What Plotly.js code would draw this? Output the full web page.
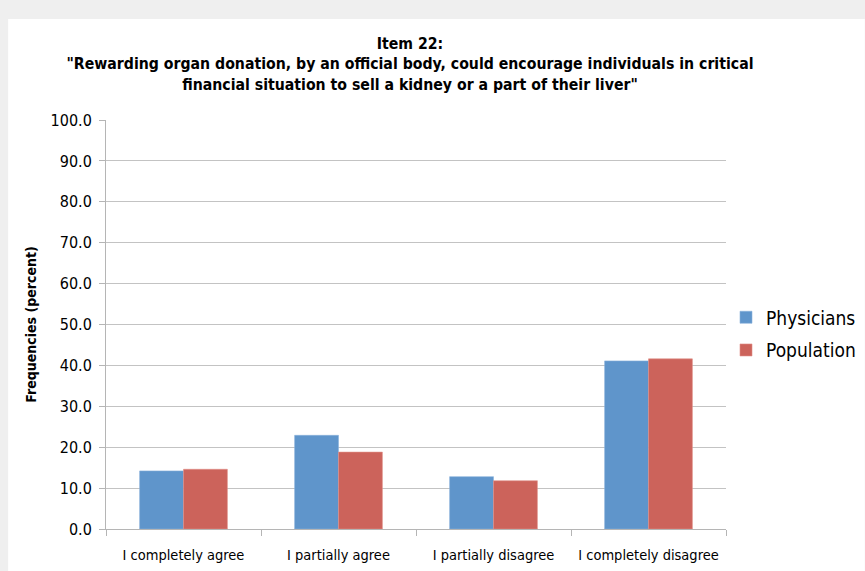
<!DOCTYPE html>
<html>
<head>
<meta charset="utf-8">
<script src="https://cdn.plot.ly/plotly-3.0.1.min.js"></script>
<style>html,body{margin:0;padding:0;background:#efefef;}#chart{width:865px;height:571px;}</style>
</head>
<body>
<div id="chart"></div>
<script>
const categories = ["I completely agree", "I partially agree", "I partially disagree", "I completely disagree"];
const physicians = [14.2, 22.9, 12.8, 41.1];
const population = [14.6, 18.8, 11.8, 41.6];
const seriesNames = ["Physicians", "Population"];
const yTicks = [0, 10, 20, 30, 40, 50, 60, 70, 80, 90, 100];

const FONT = '"Liberation Sans Narrow", "DejaVu Sans Condensed", "Liberation Sans", sans-serif';

const traces = [
  {type: 'bar', name: seriesNames[0], x: categories, y: physicians,
   marker: {color: '#5f95cb', line: {color: '#8ab2dc', width: 0.6}}, legendgroup: 'a'},
  {type: 'bar', name: seriesNames[1], x: categories, y: population,
   marker: {color: '#cc635b', line: {color: '#e08e88', width: 0.6}}, legendgroup: 'b'}
];

const layout = {
  width: 865, height: 571,
  margin: {l: 106, r: 138, t: 120, b: 42},
  paper_bgcolor: '#efefef',
  plot_bgcolor: '#ffffff',
  font: {family: FONT, color: '#000'},
  barmode: 'group', bargap: 0.434, bargroupgap: 0,
  title: {
    text: '<b>Item 22:<br>"Rewarding organ donation, by an official body, could encourage individuals in critical<br>financial situation to sell a kidney or a part of their liver"</b>',
    font: {family: FONT, size: 15.7, color: '#000'},
    xref: 'container', x: 0.474, xanchor: 'center',
    yref: 'container', y: 1 - 49/571, yanchor: 'top'
  },
  shapes: [{type: 'rect', xref: 'paper', yref: 'paper', layer: 'below',
    x0: (8-106)/621, x1: (866-106)/621, y0: (529-572)/409, y1: (529-19)/409,
    fillcolor: '#ffffff', line: {width: 0}}],
  xaxis: {
    type: 'category', showgrid: false, showline: true, linecolor: '#b5b5b5', linewidth: 1,
    ticks: 'outside', tickson: 'boundaries', ticklen: 6, tickcolor: '#b5b5b5',
    ticklabelstandoff: 13,
    tickfont: {family: FONT, size: 14.5, color: '#000'}
  },
  yaxis: {
    range: [0, 100], tickvals: yTicks, tickformat: '.1f',
    showgrid: true, gridcolor: '#c3c3c3', gridwidth: 1,
    showline: true, linecolor: '#b5b5b5', linewidth: 1,
    ticks: 'outside', ticklen: 6, tickcolor: '#b5b5b5',
    ticklabelstandoff: 4,
    tickfont: {family: FONT, size: 16, color: '#000'},
    zeroline: false,
    title: {text: '<b>Frequencies (percent)</b>', font: {family: FONT, size: 14, color: '#000'}, standoff: 10}
  },
  legend: {xref: 'container', x: 726/865, xanchor: 'left', yref: 'paper', y: 0.477, yanchor: 'middle',
    font: {family: FONT, size: 19, color: '#000'}, bgcolor: 'rgba(0,0,0,0)',
    traceorder: 'grouped', tracegroupgap: 5},
  showlegend: true
};

Plotly.newPlot('chart', traces, layout, {displayModeBar: false, responsive: false});
</script>
</body>
</html>
